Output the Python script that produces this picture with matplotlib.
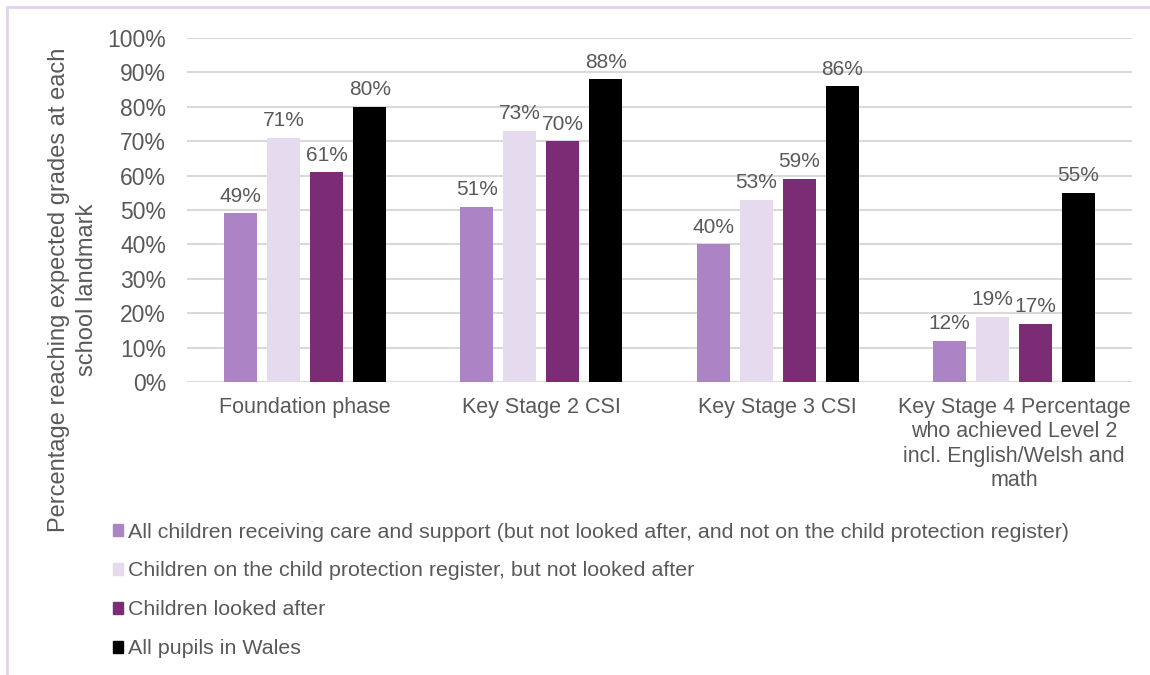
import numpy as np
import matplotlib.pyplot as plt
from matplotlib.patches import Patch, Rectangle

plt.rcParams['font.family'] = ['Liberation Sans', 'DejaVu Sans']

categories = ['Foundation phase', 'Key Stage 2 CSI', 'Key Stage 3 CSI',
              'Key Stage 4 Percentage\nwho achieved Level 2\nincl. English/Welsh and\nmath']
series_names = ['All children receiving care and support (but not looked after, and not on the child protection register)',
                'Children on the child protection register, but not looked after',
                'Children looked after',
                'All pupils in Wales']
care_support = [49, 51, 40, 12]
protection_register = [71, 73, 53, 19]
looked_after = [61, 70, 59, 17]
all_pupils = [80, 88, 86, 55]
colors = ['#AC84C6', '#E6DAEE', '#7B2C75', '#000000']

TEXT = '#595959'
W, H = 1150, 675
fig = plt.figure(figsize=(W / 100, H / 100), dpi=100)

# light purple frame around the chart
fig.patches.append(Rectangle((7 / W, -0.1), 1.2, 1 - 7 / H + 0.1, transform=fig.transFigure,
                             fill=False, edgecolor='#E2D3EC', linewidth=2))

ax = fig.add_axes([187 / W, (H - 382) / H, (1132 - 187) / W, (382 - 38) / H])

values = [care_support, protection_register, looked_after, all_pupils]
x = np.arange(len(categories))
bw = 33 / 236
step = 43 / 236
for i, (vals, col) in enumerate(zip(values, colors)):
    pos = x + (i - 1.5) * step
    ax.bar(pos, vals, bw, color=col, zorder=3)
    for p, v in zip(pos, vals):
        ax.text(p, v + 2.2, f'{v}%', ha='center', va='bottom', fontsize=15, color=TEXT)

ax.set_xlim(-0.5, len(categories) - 0.5)
ax.set_ylim(0, 100)
ax.set_yticks(range(0, 101, 10))
ax.set_yticklabels([f'{t}%' for t in range(0, 101, 10)], fontsize=16.5)
ax.set_xticks(x)
ax.set_xticklabels(categories, linespacing=1.2, fontsize=15.5)
ax.tick_params(axis='both', length=0, labelcolor=TEXT)
ax.tick_params(axis='y', pad=15)
ax.tick_params(axis='x', pad=11)
ax.grid(axis='y', color='#D9D9D9', linewidth=1.5, zorder=0)
for s in ax.spines.values():
    s.set_visible(False)

fig.text(73 / W, 1 - 290 / H, 'Percentage reaching expected grades at each\nschool landmark',
         rotation=90, ha='center', va='center', fontsize=17, color=TEXT, linespacing=1.35)

handles = [Patch(color=c) for c in colors]
fig.legend(handles, series_names, loc='upper left', bbox_to_anchor=(104 / W, 1 - 514 / H),
           frameon=False, fontsize=15.4, labelcolor=TEXT, handlelength=0.5, handleheight=0.5,
           handletextpad=0.2, labelspacing=0.93, borderaxespad=0)

fig.savefig('out.png', dpi=100)
